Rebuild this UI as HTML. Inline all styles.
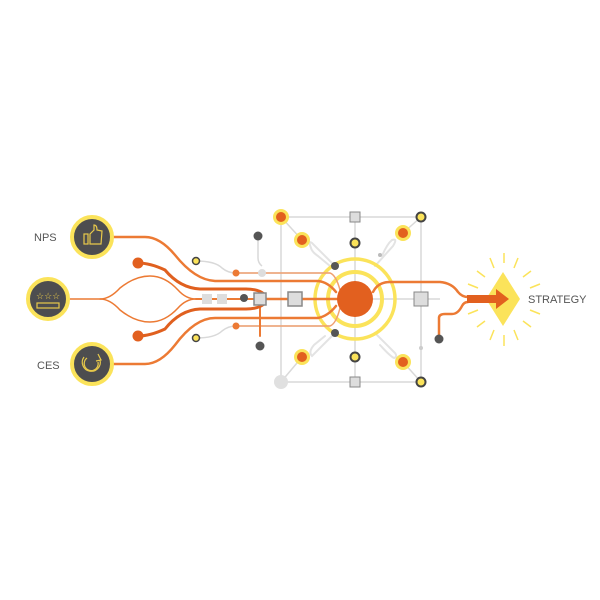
<!DOCTYPE html>
<html><head><style>html,body{margin:0;padding:0;background:#fff}svg{display:block}</style></head>
<body>
<svg width="600" height="600" viewBox="0 0 600 600" xmlns="http://www.w3.org/2000/svg" font-family="Liberation Sans, sans-serif">
<rect width="600" height="600" fill="#fff"/>
<g stroke="#d9d9d9" stroke-width="1.5" fill="none">
<rect x="281" y="217" width="140" height="165"/>
<line x1="355" y1="217" x2="355" y2="382"/>
<line x1="260" y1="299" x2="440" y2="299"/>
<line x1="281" y1="217" x2="302" y2="240"/>
<line x1="421" y1="217" x2="403" y2="233"/>
<line x1="281" y1="382" x2="302" y2="357"/>
<line x1="421" y1="382" x2="403" y2="362"/>
<path d="M258 236 L258 258 Q258 263 262 266"/>
<path d="M196 261 Q215 261 222 268 Q228 273 236 273 L330 273"/>
<path d="M196 338 Q215 338 222 331 Q228 326 236 326 L330 326"/>
<line x1="421" y1="299" x2="421" y2="350"/>
</g>
<g stroke="#e3e3e3" stroke-width="2" fill="none" stroke-linecap="round">
<path d="M335 266 L312 243 Q308 240 311 248 Q312 252 318 256 L330 266"/>
<path d="M335 333 L312 356 Q308 352 314 345 L325 336"/>
<path d="M375 266 L393 246 Q398 238 392 240 Q387 244 382 256"/>
<path d="M375 333 L395 353 Q398 357 394 358 Q390 356 380 345"/>
</g>
<circle cx="355" cy="299" r="40" fill="none" stroke="#fbe35a" stroke-width="3.5"/>
<circle cx="355" cy="299" r="27" fill="none" stroke="#fbe35a" stroke-width="4"/>
<g fill="none" stroke="#ec7a34" stroke-linecap="round">
<path d="M113 237 L145 237 Q160 237 175 255 Q195 280 215 281 L318 281 Q328 282 336 292" stroke-width="2.5"/>
<path d="M113 364 L145 364 Q160 364 175 345 Q195 318 215 318 L318 318 Q328 316 336 306" stroke-width="2.5"/>
<path d="M70 299 L100 299 Q110 299 120 288 Q135 276 150 276 Q165 276 178 290 Q186 299 196 299" stroke-width="1.5"/>
<path d="M100 299 Q110 299 120 310 Q135 322 150 322 Q165 322 178 308 Q186 299 196 299" stroke-width="1.5"/>
<path d="M196 299 L255 299" stroke-width="2"/>
<path d="M236 273 L330 273 Q336 275 340 290" stroke-width="1.5" stroke="#f0a070"/>
<path d="M236 326 L330 326 Q336 324 340 308" stroke-width="1.5" stroke="#f0a070"/>
<path d="M266 299 L337 299" stroke-width="2.5"/>
<path d="M260 305 L260 336" stroke-width="2"/>
<path d="M373 292 Q378 282 390 282 L440 282 Q452 283 458 292 Q462 297 468 297" stroke-width="2.5"/>
<path d="M439 339 L439 318 Q439 314 445 314 L452 314 Q458 314 462 306 Q464 302 468 302" stroke-width="2.5"/>
</g>
<g fill="none" stroke="#e0601f" stroke-width="3" stroke-linecap="round">
<path d="M138 263 Q150 263 165 270 Q180 288 200 289 L246 289 Q258 289 264 294"/>
<path d="M138 336 Q150 336 165 329 Q180 310 200 309 L246 309 Q258 309 264 304"/>
</g>
<circle cx="355" cy="299" r="18" fill="#e2601f"/>
<g>
<circle cx="281" cy="217" r="8" fill="#fbe35a"/><circle cx="281" cy="217" r="5" fill="#e2601f"/>
<circle cx="302" cy="240" r="8" fill="#fbe35a"/><circle cx="302" cy="240" r="5" fill="#e2601f"/>
<circle cx="403" cy="233" r="8" fill="#fbe35a"/><circle cx="403" cy="233" r="5" fill="#e2601f"/>
<circle cx="302" cy="357" r="8" fill="#fbe35a"/><circle cx="302" cy="357" r="5" fill="#e2601f"/>
<circle cx="403" cy="362" r="8" fill="#fbe35a"/><circle cx="403" cy="362" r="5" fill="#e2601f"/>
<g fill="#fbe35a" stroke="#444" stroke-width="2">
<circle cx="421" cy="217" r="4.5"/><circle cx="355" cy="243" r="4.5"/>
<circle cx="355" cy="357" r="4.5"/><circle cx="421" cy="382" r="4.5"/>
<circle cx="196" cy="261" r="3.5" stroke-width="1.5"/><circle cx="196" cy="338" r="3.5" stroke-width="1.5"/>
</g>
<g fill="#555"><circle cx="335" cy="266" r="4"/><circle cx="335" cy="333" r="4"/>
<circle cx="244" cy="298" r="4"/><circle cx="258" cy="236" r="4.5"/><circle cx="260" cy="346" r="4.5"/><circle cx="439" cy="339" r="4.5"/></g>
<circle cx="281" cy="382" r="7" fill="#e0e0e0"/>
<circle cx="262" cy="273" r="4" fill="#ddd"/>
<circle cx="236" cy="273" r="3.5" fill="#ec7a34"/><circle cx="236" cy="326" r="3.5" fill="#ec7a34"/>
<circle cx="138" cy="263" r="5.5" fill="#e2601f"/><circle cx="138" cy="336" r="5.5" fill="#e2601f"/>
<circle cx="421" cy="348" r="2" fill="#ccc"/><circle cx="380" cy="255" r="2" fill="#bbb"/>
<g fill="#ddd" stroke="#888" stroke-width="1">
<rect x="350" y="212" width="10" height="10"/><rect x="350" y="377" width="10" height="10"/>
<rect x="288" y="292" width="14" height="14" stroke-width="1.5"/><rect x="414" y="292" width="14" height="14"/>
<rect x="254" y="293" width="12" height="12" stroke-width="1.5"/>
</g>
<rect x="202" y="294" width="10" height="10" fill="#ddd"/><rect x="217" y="294" width="10" height="10" fill="#ddd"/>
</g>
<g stroke="#fbe35a" stroke-width="4" fill="#4d4d4f">
<circle cx="92" cy="237" r="20"/><circle cx="48" cy="299" r="20"/><circle cx="92" cy="364" r="20"/>
</g>
<g fill="none" stroke="#e8c94a" stroke-width="1.2">
<rect x="84" y="234" width="4" height="10"/>
<path d="M90 244 L90 234 L94 230 L94 225 Q97 225 97 230 L102 231 L101 244 Z"/>
<rect x="37" y="303" width="22" height="5"/>
<path d="M84 357 A9 9 0 1 0 100 360 M98 354 L101 360 L96 361"/>
<path d="M87 358 A7 7 0 1 0 98 362"/>
</g>
<text x="36" y="299" fill="#e8c94a" font-size="9">☆☆☆</text>
<g font-size="11" fill="#555"><text x="34" y="241">NPS</text><text x="37" y="369">CES</text><text x="528" y="303">STRATEGY</text></g>
<g stroke="#fbe35a" stroke-width="1.5">
<line x1="504" y1="253" x2="504" y2="263"/><line x1="504" y1="335" x2="504" y2="346"/>
<line x1="490" y1="258" x2="494" y2="268"/><line x1="518" y1="258" x2="514" y2="268"/>
<line x1="490" y1="340" x2="494" y2="330"/><line x1="518" y1="340" x2="514" y2="330"/>
<line x1="477" y1="271" x2="485" y2="277"/><line x1="531" y1="271" x2="523" y2="277"/>
<line x1="477" y1="327" x2="485" y2="321"/><line x1="531" y1="327" x2="523" y2="321"/>
<line x1="468" y1="284" x2="478" y2="288"/><line x1="540" y1="284" x2="530" y2="288"/>
<line x1="468" y1="314" x2="478" y2="310"/><line x1="540" y1="314" x2="530" y2="310"/>
</g>
<polygon points="503,272 520,299 503,326 486,299" fill="#fbe35a"/>
<polygon points="467,295 496,295 496,289 509,299 496,309 496,303 467,303" fill="#e2601f"/>
</svg>
</body></html>
